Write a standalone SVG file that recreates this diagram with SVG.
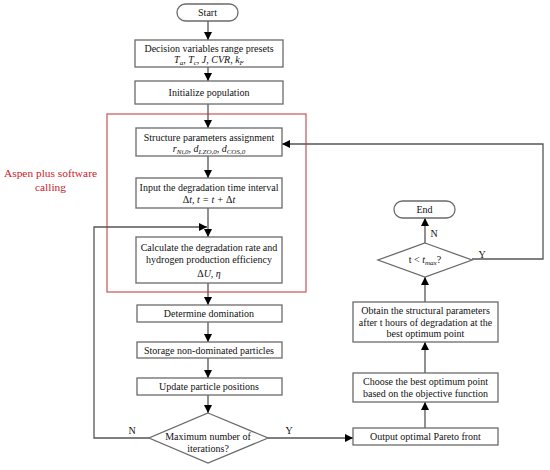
<svg xmlns="http://www.w3.org/2000/svg" width="550" height="470" viewBox="0 0 550 470" font-family="Liberation Serif, DejaVu Serif, serif">
<defs>
<style>
.box{fill:#fff;stroke:#6a6a6a;stroke-width:1.3}
.ln{fill:none;stroke:#555;stroke-width:1.3}
text{font-family:'Liberation Serif','DejaVu Serif',serif;font-size:10px;fill:#111;text-anchor:middle}
.m{font-style:italic}
.s{font-size:7px}
.lbl{font-size:10px}
.red{fill:#d0202a;font-size:11.4px}
</style>
<marker id="ah" viewBox="0 0 10 10" refX="10" refY="5" markerWidth="8" markerHeight="8" markerUnits="userSpaceOnUse" orient="auto">
<path d="M0,0 L10,5 L0,10 z" fill="#000"/>
</marker>
</defs>
<rect width="550" height="470" fill="#fff"/>

<g id="aspen">
<rect x="107" y="114" width="199" height="178" fill="none" stroke="#d06060" stroke-width="1.3"/>
<text class="red" x="50.5" y="177">Aspen plus software</text>
<text class="red" x="50.5" y="191">calling</text>
</g>

<g id="connectors">
<line class="ln" x1="208" y1="21" x2="208" y2="40" marker-end="url(#ah)"/>
<line class="ln" x1="208" y1="67" x2="208" y2="81" marker-end="url(#ah)"/>
<line class="ln" x1="208" y1="104" x2="208" y2="128" marker-end="url(#ah)"/>
<line class="ln" x1="208" y1="156" x2="208" y2="178" marker-end="url(#ah)"/>
<line class="ln" x1="208" y1="208" x2="208" y2="237" marker-end="url(#ah)"/>
<line class="ln" x1="208" y1="283" x2="208" y2="305" marker-end="url(#ah)"/>
<line class="ln" x1="208" y1="322" x2="208" y2="342" marker-end="url(#ah)"/>
<line class="ln" x1="208" y1="358" x2="208" y2="378" marker-end="url(#ah)"/>
<line class="ln" x1="208" y1="395" x2="208" y2="413" marker-end="url(#ah)"/>
<polyline class="ln" points="149,438 94,438 94,227 207,227" marker-end="url(#ah)"/>
<line class="ln" x1="268" y1="438" x2="353" y2="438" marker-end="url(#ah)"/>
<line class="ln" x1="425" y1="428" x2="425" y2="402" marker-end="url(#ah)"/>
<line class="ln" x1="425" y1="373" x2="425" y2="342" marker-end="url(#ah)"/>
<line class="ln" x1="425" y1="302" x2="425" y2="277" marker-end="url(#ah)"/>
<line class="ln" x1="425" y1="243" x2="425" y2="218" marker-end="url(#ah)"/>
<polyline class="ln" points="472,259 543,259 543,144 282,144" marker-end="url(#ah)"/>
<text class="lbl" x="132" y="434">N</text>
<text class="lbl" x="289" y="434">Y</text>
<text class="lbl" x="434" y="237">N</text>
<text class="lbl" x="482" y="258">Y</text>
</g>

<g id="start">
<rect class="box" x="177" y="4" width="61" height="17" rx="8.5"/>
<text x="207.5" y="16">Start</text>
</g>

<g id="presets">
<rect class="box" x="135" y="40" width="148" height="27"/>
<text x="209" y="52">Decision variables range presets</text>
<text class="m" x="209" y="63">T<tspan class="s" dy="2">a</tspan><tspan dy="-2">, T</tspan><tspan class="s" dy="2">c</tspan><tspan dy="-2">, J, CVR, k</tspan><tspan class="s" dy="2">F</tspan></text>
</g>

<g id="init">
<rect class="box" x="135" y="81" width="148" height="23"/>
<text x="209" y="96">Initialize population</text>
</g>

<g id="structure">
<rect class="box" x="136" y="128" width="146" height="28"/>
<text x="209" y="141">Structure parameters assignment</text>
<text class="m" x="209" y="152">r<tspan class="s" dy="2">Ni,0</tspan><tspan dy="-2">, d</tspan><tspan class="s" dy="2">LZO,0</tspan><tspan dy="-2">, d</tspan><tspan class="s" dy="2">COS,0</tspan></text>
</g>

<g id="interval">
<rect class="box" x="136" y="178" width="146" height="30"/>
<text x="209" y="191">Input the degradation time interval</text>
<text class="m" x="209" y="203"><tspan font-style="normal">Δ</tspan>t, t = t + <tspan font-style="normal">Δ</tspan>t</text>
</g>

<g id="calculate">
<rect class="box" x="136" y="237" width="146" height="46"/>
<text x="209" y="251">Calculate the degradation rate and</text>
<text x="209" y="263">hydrogen production efficiency</text>
<text class="m" x="209" y="277"><tspan font-style="normal">Δ</tspan>U, η</text>
</g>

<g id="domination">
<rect class="box" x="137" y="305" width="145" height="17"/>
<text x="209" y="317">Determine domination</text>
</g>

<g id="storage">
<rect class="box" x="137" y="342" width="145" height="16"/>
<text x="209" y="354">Storage non-dominated particles</text>
</g>

<g id="update">
<rect class="box" x="137" y="378" width="145" height="17"/>
<text x="209" y="390">Update particle positions</text>
</g>

<g id="maxiter">
<polygon class="box" points="208,413 268,438 208,463 149,438"/>
<text x="208" y="440">Maximum number of</text>
<text x="208" y="452">iterations?</text>
</g>

<g id="output">
<rect class="box" x="353" y="428" width="145" height="17"/>
<text x="425.5" y="440">Output optimal Pareto front</text>
</g>

<g id="choose">
<rect class="box" x="353" y="373" width="145" height="29"/>
<text x="425.5" y="385">Choose the best optimum point</text>
<text x="425.5" y="397">based on the objective function</text>
</g>

<g id="obtain">
<rect class="box" x="353" y="302" width="145" height="40"/>
<text x="425.5" y="314">Obtain the structural parameters</text>
<text x="425.5" y="326">after t hours of degradation at the</text>
<text x="425.5" y="337">best optimum point</text>
</g>

<g id="tmax">
<polygon class="box" points="425,243 472,260 425,277 378,260"/>
<text x="425" y="263">t &lt; <tspan class="m">t</tspan><tspan class="s m" dy="2">max</tspan><tspan dy="-2">?</tspan></text>
</g>

<g id="end">
<rect class="box" x="394" y="201" width="61" height="17" rx="8.5"/>
<text x="424.5" y="213">End</text>
</g>
</svg>
